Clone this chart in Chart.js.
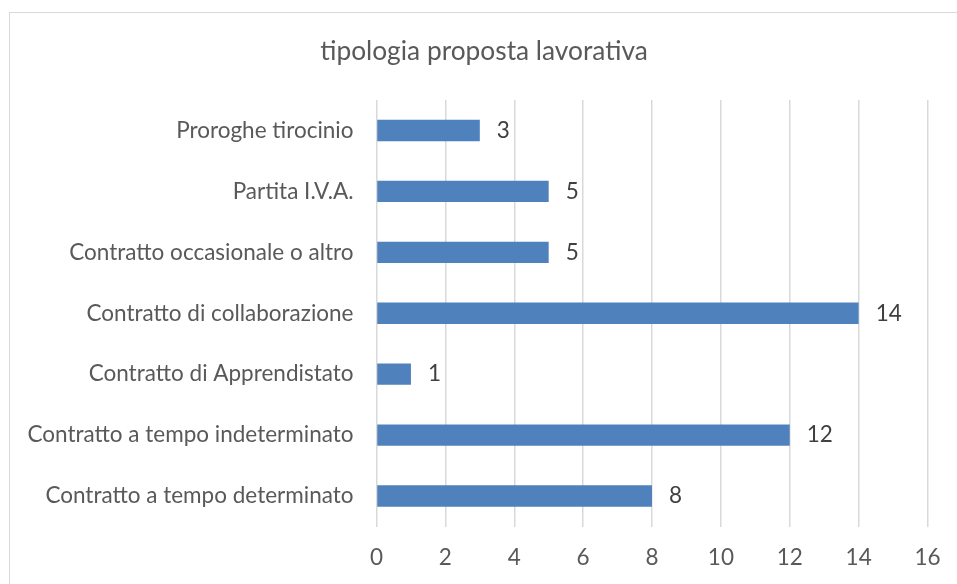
<!DOCTYPE html>
<html>
<head>
<meta charset="utf-8">
<script src="https://cdn.jsdelivr.net/npm/chart.js@4"></script>
<style>
  html, body { margin: 0; padding: 0; background: #fff; overflow: hidden; }
  #frame {
    position: absolute; left: 9px; top: 12px;
    width: 1000px; height: 640px;
    border: 1px solid #d9d9d9;
  }
  #wrap { position: absolute; left: 9px; top: 12px; width: 950px; height: 600px; }
</style>
</head>
<body>
<div id="frame"></div>
<div id="wrap"><canvas id="myChart"></canvas></div>
<script>
const chartTitle = "tipologia proposta lavorativa";
const categories = [
  "Proroghe tirocinio",
  "Partita I.V.A.",
  "Contratto occasionale o altro",
  "Contratto di collaborazione",
  "Contratto di Apprendistato",
  "Contratto a tempo indeterminato",
  "Contratto a tempo determinato",
];
const counts = [3, 5, 5, 14, 1, 12, 8];
const xTicks = [0, 2, 4, 6, 8, 10, 12, 14, 16];

const FONT = "Lato";
const LABEL_SIZE = 22.5;

// title centred on the whole chart box, not on the padded layout area
const centredTitle = {
  id: "centredTitle",
  afterDraw(chart) {
    let ctx = chart.ctx;
    ctx.save();
    ctx.font = `26.3px ${FONT}`;
    ctx.fillStyle = "#595959";
    ctx.textAlign = "center";
    ctx.textBaseline = "middle";
    ctx.fillText(chartTitle, chart.width / 2, 40);
    ctx.restore();
  },
};

// writes the value just past the end of each bar
const valueLabels = {
  id: "valueLabels",
  afterDatasetsDraw(chart) {
    let ctx = chart.ctx;
    ctx.save();
    ctx.font = `${LABEL_SIZE}px ${FONT}`;
    ctx.fillStyle = "#404040";
    ctx.textAlign = "left";
    ctx.textBaseline = "middle";
    chart.getDatasetMeta(0).data.forEach((bar, i) => {
      ctx.fillText(String(counts[i]), bar.x + 17, bar.y);
    });
    ctx.restore();
  },
};

let ctx = document.getElementById("myChart").getContext("2d");

let myChart = new Chart(ctx, {
  type: "bar",
  data: {
    labels: categories,
    datasets: [
      {
        label: chartTitle,
        data: counts,
        backgroundColor: "#4f81bd",
        categoryPercentage: 1,
        barPercentage: 0.35,
      },
    ],
  },
  options: {
    indexAxis: "y",
    responsive: true,
    maintainAspectRatio: false,
    animation: false,
    layout: { padding: { left: 0, right: 31.5, top: 88, bottom: 23.5 } },
    plugins: {
      legend: { display: false },
      tooltip: { enabled: false },
      title: { display: false },
    },
    scales: {
      x: {
        min: xTicks[0],
        max: xTicks[xTicks.length - 1],
        afterBuildTicks: (scale) => {
          scale.ticks = xTicks.map((v) => ({ value: v }));
        },
        grid: { color: "#d9d9d9", lineWidth: 1.5, drawTicks: false },
        border: { display: false },
        ticks: {
          padding: 17.5,
          color: "#595959",
          font: { family: FONT, size: LABEL_SIZE },
        },
      },
      y: {
        grid: { display: false, drawTicks: false },
        border: { display: false },
        afterFit: (scale) => {
          scale.width = 367.5;
        },
        ticks: {
          padding: 23,
          color: "#595959",
          font: { family: FONT, size: LABEL_SIZE },
        },
      },
    },
  },
  plugins: [valueLabels, centredTitle],
});
</script>
</body>
</html>
